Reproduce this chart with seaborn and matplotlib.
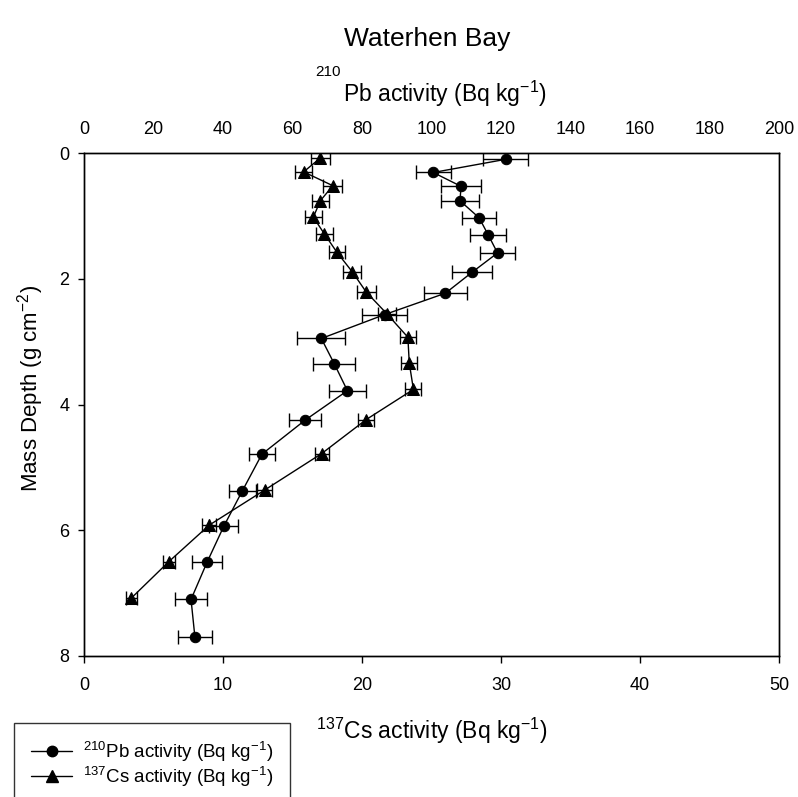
import numpy as np
import pandas as pd
import matplotlib
matplotlib.use("Agg")
import matplotlib.pyplot as plt
import seaborn as sns

# 210Pb profile (top axis)
depth_pb = [0.10, 0.31, 0.53, 0.76, 1.03, 1.30, 1.59, 1.90, 2.23, 2.57,
            2.95, 3.35, 3.78, 4.25, 4.79, 5.37, 5.94, 6.51, 7.10, 7.69]
pb = [121.4, 100.5, 108.5, 108.2, 113.7, 116.3, 119.0, 111.6, 104.0, 86.5,
      68.3, 72.0, 75.8, 63.6, 51.2, 45.6, 40.2, 35.4, 30.8, 31.9]
pb_err = [6.5, 5.1, 5.8, 5.4, 5.0, 5.1, 5.1, 5.8, 6.2, 6.4,
          6.9, 6.1, 5.3, 4.5, 3.7, 3.8, 4.1, 4.4, 4.7, 4.8]

# 137Cs profile (bottom axis)
depth_cs = [0.08, 0.30, 0.52, 0.76, 1.02, 1.29, 1.58, 1.89, 2.21, 2.56,
            2.93, 3.34, 3.76, 4.24, 4.78, 5.36, 5.92, 6.50, 7.08]
cs = [17.0, 15.8, 17.9, 17.0, 16.5, 17.3, 18.2, 19.3, 20.3, 21.8,
      23.3, 23.4, 23.7, 20.3, 17.1, 13.0, 9.0, 6.1, 3.4]
cs_err = [0.69, 0.62, 0.67, 0.63, 0.60, 0.62, 0.61, 0.65, 0.68, 0.65,
          0.60, 0.57, 0.58, 0.58, 0.51, 0.52, 0.48, 0.44, 0.38]

pb_ticks = list(range(0, 201, 20))
cs_ticks = list(range(0, 51, 10))
depth_ticks = list(range(0, 9, 2))

sns.set_style("ticks")
plt.rcParams['font.family'] = ['Liberation Sans', 'DejaVu Sans']
plt.rcParams['mathtext.fontset'] = 'custom'
plt.rcParams['mathtext.rm'] = 'Liberation Sans'
plt.rcParams['mathtext.it'] = 'Liberation Sans'
plt.rcParams['text.color'] = 'black'
plt.rcParams['axes.labelcolor'] = 'black'
plt.rcParams['axes.edgecolor'] = 'black'
plt.rcParams['xtick.color'] = 'black'
plt.rcParams['ytick.color'] = 'black'

df_pb = pd.DataFrame({'depth': depth_pb, 'act': pb, 'err': pb_err})
df_cs = pd.DataFrame({'depth': depth_cs, 'act': cs, 'err': cs_err})

W, H = 798, 797
fig = plt.figure(figsize=(W / 100, H / 100), dpi=100)
ax = fig.add_axes([84 / W, 1 - 656 / H, (779 - 84) / W, (656 - 153) / H])
ax2 = ax.twiny()

# Cs on bottom axis
ax.errorbar(df_cs['act'], df_cs['depth'], xerr=df_cs['err'], fmt='none',
            ecolor='black', elinewidth=1, capsize=5, capthick=1, zorder=2)
sns.lineplot(data=df_cs, x='act', y='depth', ax=ax, color='black', lw=1,
             marker='^', markersize=8, markeredgecolor='black',
             estimator=None, sort=False, orient='y', zorder=3)

# Pb on top axis
ax2.errorbar(df_pb['act'], df_pb['depth'], xerr=df_pb['err'], fmt='none',
             ecolor='black', elinewidth=1, capsize=5, capthick=1, zorder=2)
sns.lineplot(data=df_pb, x='act', y='depth', ax=ax2, color='black', lw=1,
             marker='o', markersize=7.5, markeredgecolor='black',
             estimator=None, sort=False, orient='y', zorder=3)

ax.set_xlim(0, 50)
ax2.set_xlim(0, 200)
ax.set_ylim(8, 0)
ax2.set_ylim(8, 0)
ax.set_xticks(cs_ticks)
ax2.set_xticks(pb_ticks)
ax.set_yticks(depth_ticks)

ax.tick_params(axis='x', direction='out', length=5, width=1, pad=10,
               labelsize=13, colors='black')
ax.tick_params(axis='y', direction='out', length=4.5, width=1, pad=6,
               labelsize=13, colors='black')
ax2.tick_params(axis='x', length=0, pad=11, labelsize=13, colors='black')
for a in (ax, ax2):
    for s in a.spines.values():
        s.set_visible(True)
        s.set_linewidth(1)
        s.set_color('black')

ax.set_xlabel('$^{137}$Cs activity (Bq kg$^{-1}$)', fontsize=16.5, labelpad=16)
ax.set_ylabel('')
ax2.set_xlabel('')
fig.text(31 / W, 1 - 388 / H, 'Mass Depth (g cm$^{-2}$)', fontsize=16,
         rotation=90, ha='center', va='center')
fig.text(343 / W, 1 - 94 / H, 'Pb activity (Bq kg$^{-1}$)', fontsize=16.5,
         ha='left', va='center')
fig.text(315 / W, 1 - 72 / H, '210', fontsize=11, ha='left', va='center')
fig.suptitle('Waterhen Bay', fontsize=19, x=427 / W, y=1 - 27 / H, va='top')

handles = [
    plt.Line2D([], [], color='black', lw=1, marker='o', markersize=7.5),
    plt.Line2D([], [], color='black', lw=1, marker='^', markersize=8),
]
labels = ['$^{210}$Pb activity (Bq kg$^{-1}$)', '$^{137}$Cs activity (Bq kg$^{-1}$)']
leg = fig.legend(handles, labels, loc='upper left',
                 bbox_to_anchor=(14 / W, 1 - 723 / H), fontsize=13.5,
                 frameon=True, fancybox=False, borderpad=0.9,
                 handlelength=2.2, handletextpad=0.6, labelspacing=0.05,
                 borderaxespad=0)
leg.get_frame().set_edgecolor('black')
leg.get_frame().set_linewidth(1)

fig.savefig('out.png', dpi=100)
